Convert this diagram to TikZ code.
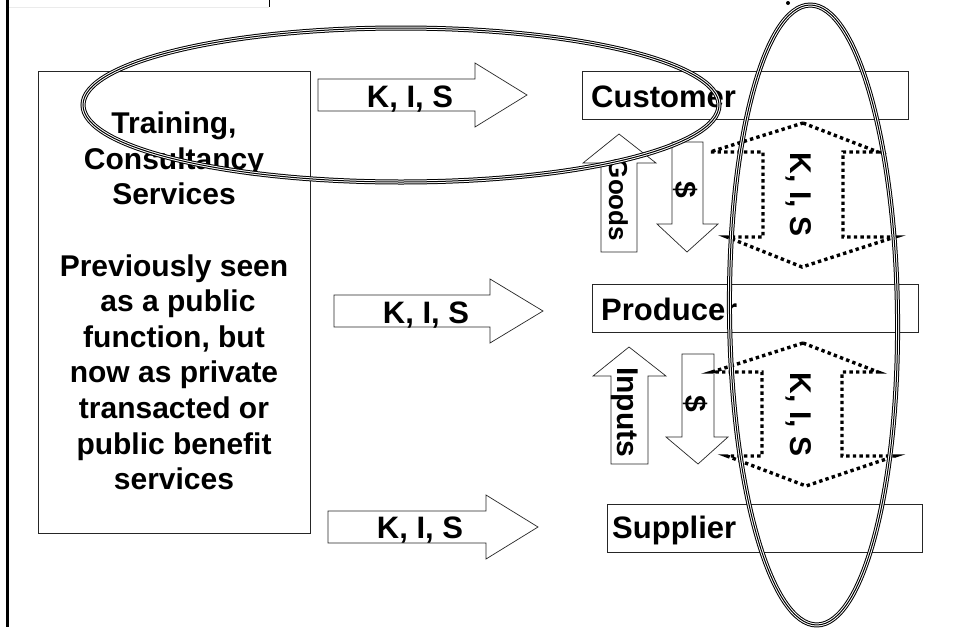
\documentclass[tikz,border=0pt]{standalone}
\usepackage{fontspec}
\setmainfont{Liberation Sans}
\begin{document}
\begin{tikzpicture}[x=1pt,y=-1pt,
  frame/.style={draw=black!85, line width=0.8pt},
  blockarrow/.style={draw=black!85, fill=white, line width=0.7pt, line join=miter},
  kisdots/.style={draw=black, line width=3.4pt, dash pattern=on 3.4pt off 3.2pt, line join=miter},
  lbl/.style={font=\fontsize{31}{36}\selectfont\bfseries, inner sep=0pt},
  vlbl/.style={font=\fontsize{30}{36}\selectfont\bfseries, inner sep=0pt, rotate=-90, anchor=base},
  ring/.style={draw=black, line width=1pt,
    preaction={draw=black, line width=5pt},
    preaction={draw=white, line width=3pt}}
]
\useasboundingbox (0,0) rectangle (953,627);

% page edge remnants
\draw[black!8, line width=0.5pt] (9,7) -- (269,7);
\draw[black, line width=0.8pt] (269,0) -- (269,7);
\draw[black, line width=2.6pt] (7.5,0) -- (7.5,627);

% service provider box
\node[frame, minimum width=272pt, minimum height=462pt, inner sep=0pt] (provider) at (174,302) {};
\node[font=\fontsize{30}{35.6}\selectfont\bfseries, align=center, inner sep=0pt]
  (providertext) at (174,301)
  {Training,\\Consultancy\\Services\\[35.6pt]Previously seen\\\hspace*{8pt}as a public\\function, but\\now as private\\transacted or\\public benefit\\services};

% K, I, S flows to the chain
\draw[blockarrow] (318,79) -- (475,79) -- (475,63) -- (527,95) -- (475,127) -- (475,111) -- (318,111) -- cycle;
\draw[blockarrow] (334,295) -- (490,295) -- (490,279) -- (543,311) -- (490,343) -- (490,327) -- (334,327) -- cycle;
\draw[blockarrow] (328,511) -- (486,511) -- (486,495) -- (538,527) -- (486,559) -- (486,543) -- (328,543) -- cycle;
\node[lbl, anchor=base] (kis1) at (410,107) {K, I, S};
\node[lbl, anchor=base] (kis2) at (426,323) {K, I, S};
\node[lbl, anchor=base] (kis3) at (420,538) {K, I, S};

% chain boxes
\node[frame, minimum width=326pt, minimum height=48pt, inner sep=0pt] (customer) at (745,95) {};
\node[frame, minimum width=326pt, minimum height=48pt, inner sep=0pt] (producer) at (755,308) {};
\node[frame, minimum width=315pt, minimum height=48pt, inner sep=0pt] (supplier) at (764.5,528) {};
\node[lbl, anchor=base west] (customerlbl) at (591,107) {Customer};
\node[lbl, anchor=base west] (producerlbl) at (601,320) {Producer};
\node[lbl, anchor=base west] (supplierlbl) at (612,538) {Supplier};

% goods and money between customer and producer
\draw[blockarrow] (601,252) -- (601,163) -- (583,163) -- (619,134) -- (656,163) -- (637,163) -- (637,252) -- cycle;
\draw[blockarrow] (672,142) -- (703,142) -- (703,224) -- (718,224) -- (687,252) -- (657,224) -- (672,224) -- cycle;
\node[vlbl, font=\fontsize{26}{30}\selectfont\bfseries] (goods) at (609,200) {Goods};
\node[vlbl] (money1) at (675,190) {\$};

% inputs and money between producer and supplier
\draw[blockarrow] (611,464) -- (611,376) -- (593,376) -- (629,347) -- (666,376) -- (648,376) -- (648,464) -- cycle;
\draw[blockarrow] (682,354) -- (714,354) -- (714,437) -- (728,437) -- (698,464) -- (666,437) -- (682,437) -- cycle;
\node[vlbl] (inputs) at (617,412) {Inputs};
\node[vlbl] (money2) at (685,404) {\$};

% two-way K, I, S exchanges
\draw[kisdots] (803,123) -- (878,152) -- (843,152) -- (843,237) -- (895,237) -- (802,267) -- (727,237) -- (763,237) -- (763,152) -- (710,152) -- cycle;
\draw[kisdots] (803,343) -- (878,372) -- (842,372) -- (842,456) -- (895,456) -- (806,486) -- (727,456) -- (762,456) -- (762,372) -- (712,372) -- cycle;
\node[vlbl] (kisx1) at (790,194.5) {K, I, S};
\node[vlbl] (kisx2) at (790,414.5) {K, I, S};

% groupings
\draw[ring] (401,105) ellipse [x radius=318pt, y radius=77pt];
\draw[ring, rotate around={0.65:(813.5,315)}] (813.5,315) ellipse [x radius=84pt, y radius=310pt];
\fill (788,3) circle (2pt);
\end{tikzpicture}
\end{document}
